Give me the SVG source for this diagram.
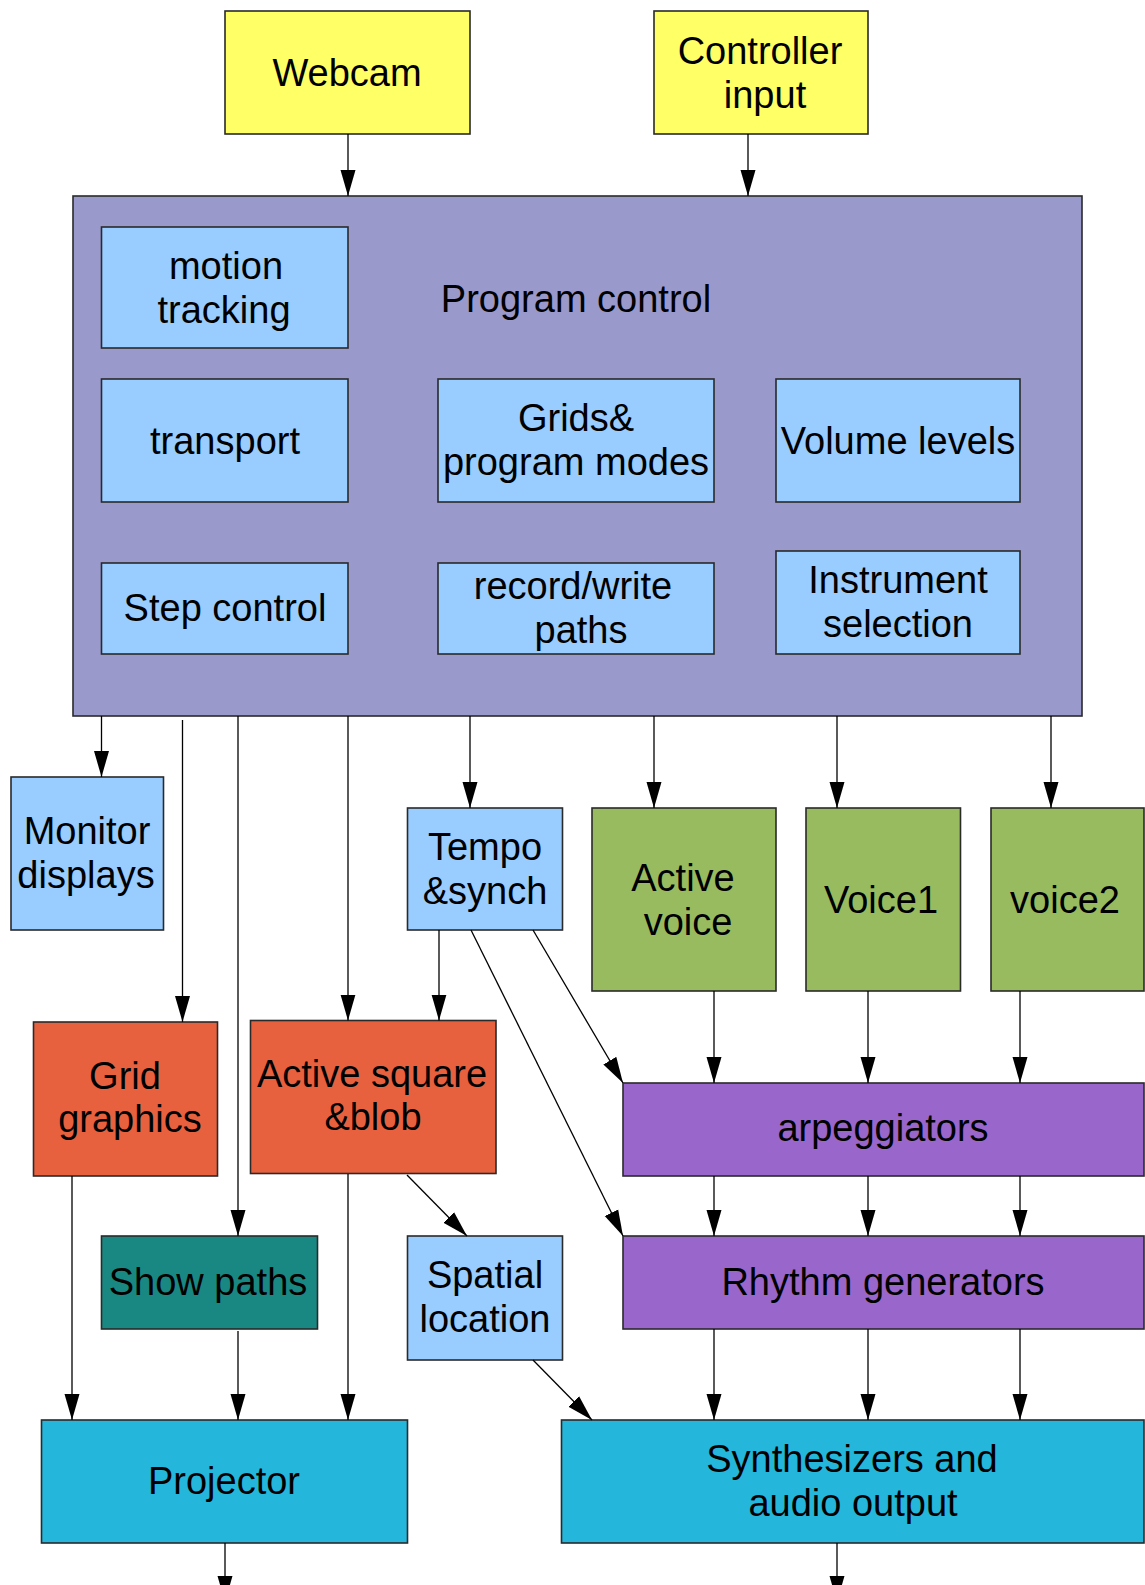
<svg xmlns="http://www.w3.org/2000/svg" width="1145" height="1585" viewBox="0 0 1145 1585">
  <style>
    .box { stroke: #2a2a2a; stroke-width: 1.6; }
    .t { font-family: "Liberation Sans", Arial, sans-serif; font-size: 38px; fill: #000; text-anchor: middle; }
    .yellow { fill: #ffff66; }
    .ctrl { fill: #9999cc; }
    .lblue { fill: #99ccff; }
    .green { fill: #99bb5f; }
    .orange { fill: #e8613f; }
    .purple { fill: #9966cc; }
    .teal { fill: #1a8882; }
    .cyan { fill: #24b6db; }
    .edge { stroke: #000; stroke-width: 1.3; fill: none; marker-end: url(#arrow); }
  </style>
  <defs>
    <marker id="arrow" markerUnits="userSpaceOnUse" markerWidth="26" markerHeight="16" viewBox="0 -8 26 16" refX="26" refY="0" orient="auto">
      <path d="M0,-7.5 L26,0 L0,7.5 Z" fill="#000"/>
    </marker>
  </defs>
  <rect width="1145" height="1585" fill="#ffffff"/>

  <!-- inputs -->
  <g id="webcam">
    <rect class="box yellow" x="225" y="11" width="245" height="123"/>
    <text class="t" x="347" y="86">Webcam</text>
  </g>
  <g id="controller-input">
    <rect class="box yellow" x="654" y="11" width="214" height="123"/>
    <text class="t" x="760" y="64">Controller</text>
    <text class="t" x="765" y="108">input</text>
  </g>

  <!-- program control container -->
  <g id="program-control">
    <rect class="box ctrl" x="73" y="196" width="1009" height="520"/>
    <text class="t" x="576" y="312">Program control</text>
  </g>
  <g id="motion-tracking">
    <rect class="box lblue" x="101.5" y="227" width="246.5" height="121"/>
    <text class="t" x="226" y="279">motion</text>
    <text class="t" x="224" y="323">tracking</text>
  </g>
  <g id="transport">
    <rect class="box lblue" x="101.5" y="379" width="246.5" height="123"/>
    <text class="t" x="225" y="454">transport</text>
  </g>
  <g id="grids-modes">
    <rect class="box lblue" x="438" y="379" width="276" height="123"/>
    <text class="t" x="576" y="431">Grids&amp;</text>
    <text class="t" x="576" y="475">program modes</text>
  </g>
  <g id="volume-levels">
    <rect class="box lblue" x="776" y="379" width="244" height="123"/>
    <text class="t" x="898" y="454">Volume levels</text>
  </g>
  <g id="step-control">
    <rect class="box lblue" x="101.5" y="563" width="246.5" height="91"/>
    <text class="t" x="225" y="621">Step control</text>
  </g>
  <g id="record-write">
    <rect class="box lblue" x="438" y="563" width="276" height="91"/>
    <text class="t" x="573" y="599">record/write</text>
    <text class="t" x="581" y="643">paths</text>
  </g>
  <g id="instrument-selection">
    <rect class="box lblue" x="776" y="551" width="244" height="103"/>
    <text class="t" x="898" y="593">Instrument</text>
    <text class="t" x="898" y="637">selection</text>
  </g>

  <!-- middle tier -->
  <g id="monitor-displays">
    <rect class="box lblue" x="11" y="777" width="152.5" height="153"/>
    <text class="t" x="87" y="844">Monitor</text>
    <text class="t" x="86" y="888">displays</text>
  </g>
  <g id="tempo-synch">
    <rect class="box lblue" x="407.5" y="808" width="155" height="122"/>
    <text class="t" x="485" y="860">Tempo</text>
    <text class="t" x="485" y="904">&amp;synch</text>
  </g>
  <g id="active-voice">
    <rect class="box green" x="592" y="808" width="184" height="183"/>
    <text class="t" x="683" y="891">Active</text>
    <text class="t" x="688" y="935">voice</text>
  </g>
  <g id="voice1">
    <rect class="box green" x="806" y="808" width="154.5" height="183"/>
    <text class="t" x="881" y="913">Voice1</text>
  </g>
  <g id="voice2">
    <rect class="box green" x="991" y="808" width="153" height="183"/>
    <text class="t" x="1065" y="913">voice2</text>
  </g>
  <g id="grid-graphics">
    <rect class="box orange" x="33.5" y="1022" width="184" height="154"/>
    <text class="t" x="125" y="1089">Grid</text>
    <text class="t" x="130" y="1132">graphics</text>
  </g>
  <g id="active-square-blob">
    <rect class="box orange" x="250.5" y="1020.5" width="245.5" height="153"/>
    <text class="t" x="372" y="1087">Active square</text>
    <text class="t" x="373" y="1130">&amp;blob</text>
  </g>
  <g id="arpeggiators">
    <rect class="box purple" x="623" y="1083" width="521" height="93"/>
    <text class="t" x="883" y="1141">arpeggiators</text>
  </g>
  <g id="show-paths">
    <rect class="box teal" x="101.5" y="1236" width="216" height="93"/>
    <text class="t" x="208" y="1295">Show paths</text>
  </g>
  <g id="spatial-location">
    <rect class="box lblue" x="407.5" y="1236" width="155" height="124"/>
    <text class="t" x="485" y="1288">Spatial</text>
    <text class="t" x="485" y="1332">location</text>
  </g>
  <g id="rhythm-generators">
    <rect class="box purple" x="623" y="1236" width="521" height="93"/>
    <text class="t" x="883" y="1295">Rhythm generators</text>
  </g>

  <!-- outputs -->
  <g id="projector">
    <rect class="box cyan" x="41.5" y="1420" width="366" height="123"/>
    <text class="t" x="224" y="1494">Projector</text>
  </g>
  <g id="synthesizers">
    <rect class="box cyan" x="561.5" y="1420" width="582.5" height="123"/>
    <text class="t" x="852" y="1472">Synthesizers and</text>
    <text class="t" x="853" y="1516">audio output</text>
  </g>

  <g id="connectors">
    <line class="edge" x1="348" y1="134" x2="348" y2="196"/>
    <line class="edge" x1="748" y1="134" x2="748" y2="196"/>
    <line class="edge" x1="101.5" y1="716" x2="101.5" y2="777"/>
    <line class="edge" x1="182.5" y1="720" x2="182.5" y2="1022"/>
    <line class="edge" x1="238" y1="716" x2="238" y2="1236"/>
    <line class="edge" x1="348" y1="716" x2="348" y2="1020.5"/>
    <line class="edge" x1="470" y1="716" x2="470" y2="808"/>
    <line class="edge" x1="654" y1="716" x2="654" y2="808"/>
    <line class="edge" x1="837" y1="716" x2="837" y2="808"/>
    <line class="edge" x1="1051" y1="716" x2="1051" y2="808"/>
    <line class="edge" x1="439" y1="930" x2="439" y2="1020.5"/>
    <line class="edge" x1="533" y1="930" x2="623" y2="1083"/>
    <line class="edge" x1="471" y1="930" x2="623" y2="1236"/>
    <line class="edge" x1="714" y1="991" x2="714" y2="1083"/>
    <line class="edge" x1="868" y1="991" x2="868" y2="1083"/>
    <line class="edge" x1="1020" y1="991" x2="1020" y2="1083"/>
    <line class="edge" x1="714" y1="1176" x2="714" y2="1236"/>
    <line class="edge" x1="868" y1="1176" x2="868" y2="1236"/>
    <line class="edge" x1="1020" y1="1176" x2="1020" y2="1236"/>
    <line class="edge" x1="714" y1="1329" x2="714" y2="1420"/>
    <line class="edge" x1="868" y1="1329" x2="868" y2="1420"/>
    <line class="edge" x1="1020" y1="1329" x2="1020" y2="1420"/>
    <line class="edge" x1="72" y1="1176" x2="72" y2="1420"/>
    <line class="edge" x1="238" y1="1331" x2="238" y2="1420"/>
    <line class="edge" x1="348" y1="1174" x2="348" y2="1420"/>
    <line class="edge" x1="407" y1="1175" x2="467" y2="1236"/>
    <line class="edge" x1="533" y1="1360" x2="592" y2="1420"/>
    <line class="edge" x1="225" y1="1543" x2="225" y2="1602"/>
    <line class="edge" x1="837" y1="1543" x2="837" y2="1602"/>
  </g>
</svg>
